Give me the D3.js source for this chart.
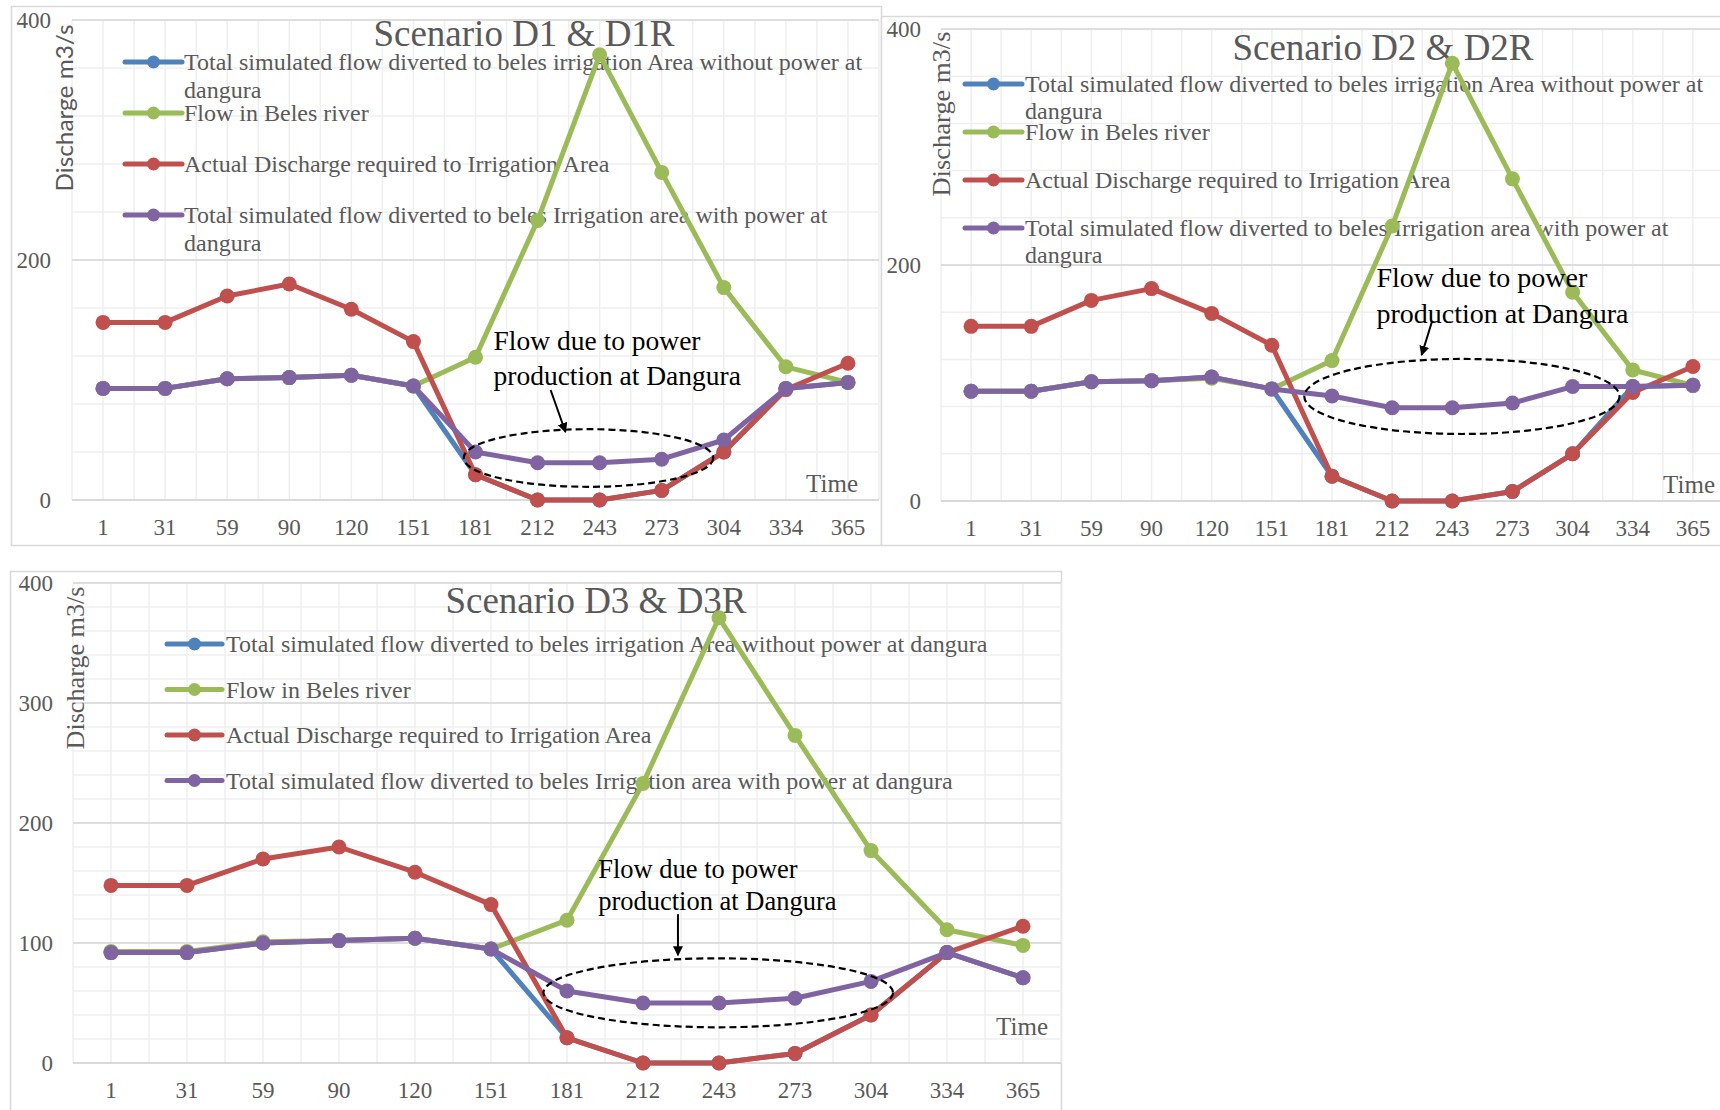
<!DOCTYPE html>
<html>
<head>
<meta charset="utf-8">
<script src="https://cdn.jsdelivr.net/npm/d3@7"></script>
<style>
  body { margin: 0; background: #fff; }
  svg { display: block; }
</style>
</head>
<body>
<script>
// categories (day of year) and series values
var days = ["1", "31", "59", "90", "120", "151", "181", "212", "243", "273", "304", "334", "365"];

var seriesNames = [
  "Total simulated flow diverted to beles irrigation Area without power at dangura",
  "Flow in Beles river",
  "Actual Discharge required to Irrigation Area",
  "Total simulated flow diverted to beles Irrigation area with power at dangura"
];
var seriesColors = ["#4f81bd", "#9bbb59", "#c0504d", "#8064a2"];

var flowBeles    = [93, 93, 101, 102, 104, 95, 119, 233, 371, 273, 177, 111, 98];
var requiredFlow = [148, 148, 170, 180, 159, 132, 21, 0, 0, 8, 40, 92, 114];

var noPowerD1 = [93, 93, 101, 102, 104, 95, 21, 0, 0, 8, 40, 93, 98];
var noPowerD2 = [93, 93, 101, 102, 105, 95, 21, 0, 0, 8, 40, 97, 98];
var noPowerD3 = [92, 92, 100, 102, 104, 95, 21, 0, 0, 8, 40, 92, 71];

var withPowerD1 = [93, 93, 101, 102, 104, 95, 40, 31, 31, 34, 50, 93, 98];
var withPowerD2 = [93, 93, 101, 102, 105, 95, 89, 79, 79, 83, 97, 97, 98];
var withPowerD3 = [92, 92, 100, 102, 104, 95, 60, 50, 50, 54, 68, 92, 71];

var titles = ["Scenario D1 & D1R", "Scenario D2 & D2R", "Scenario D3 & D3R"];
var yTicksTop = [0, 200, 400];
var yTicksBottom = [0, 100, 200, 300, 400];
var noteLines = ["Flow due to power", "production at Dangura"];

var W = 1720, H = 1110;
var grey = "#595959";
var serif = "'Liberation Serif', 'Times New Roman', serif";

var svg = d3.select("body").append("svg")
    .attr("width", W)
    .attr("height", H);

// layout of the three panels (pixels)
var charts = [
  {
    title: titles[0], data: [noPowerD1, flowBeles, requiredFlow, withPowerD1],
    box: [11, 6, 870, 539], plot: {l: 72, r: 879, t: 20, b: 500}, tickRight: 51,
    yTicks: yTicksTop, minor: 40, titleX: 524, titleY: 46,
    yLab: {x: 65, y: 108, font: "Lato, 'Open Sans', sans-serif", len: 167, size: 23},
    legend: {x1: 125, x2: 182, tx: 184, y0: 62, dy: 51, maxW: 690, lh: 28},
    note: {tx: 6.29, ty: 125, fs: 27.5, lh: 35, a: [7.21, 91.7, 7.45, 56.7], e: [7.82, 35, 2.01, 24]},
    time: [858, 492]
  },
  {
    title: titles[1], data: [noPowerD2, flowBeles, requiredFlow, withPowerD2],
    box: [881, 16, 860, 529], plot: {l: 941, r: 1723, t: 29, b: 501}, tickRight: 921,
    yTicks: yTicksTop, minor: 40, titleX: 1383, titleY: 60,
    yLab: {x: 941, y: 114, font: serif, len: 165, size: 25},
    legend: {x1: 965, x2: 1022, tx: 1025, y0: 84, dy: 48, maxW: 690, lh: 27},
    note: {tx: 6.74, ty: 181, fs: 28, lh: 36, a: [7.66, 151.7, 7.49, 123.7], e: [8.16, 88.6, 2.62, 31.8]},
    time: [1715, 493]
  },
  {
    title: titles[2], data: [noPowerD3, flowBeles, requiredFlow, withPowerD3],
    box: [10, 571, 1051, 560], plot: {l: 73, r: 1061, t: 583, b: 1063}, tickRight: 53,
    yTicks: yTicksBottom, minor: 20, titleX: 596, titleY: 613,
    yLab: {x: 75, y: 668, font: serif, len: 163, size: 25},
    legend: {x1: 167, x2: 222, tx: 226, y0: 644, dy: 45.5, maxW: 900, lh: 27},
    note: {tx: 6.41, ty: 154, fs: 26.5, lh: 31.5, a: [7.46, 124, 7.46, 89.8], e: [7.99, 58.5, 2.30, 28.75]},
    time: [1048, 1035]
  }
];

svg.append("defs").append("marker")
    .attr("id", "arrow")
    .attr("viewBox", "0 0 10 10")
    .attr("refX", 9).attr("refY", 5)
    .attr("markerWidth", 5).attr("markerHeight", 5)
    .attr("orient", "auto")
  .append("path")
    .attr("d", "M0,0 L10,5 L0,10 z")
    .attr("fill", "#000");

charts.forEach(drawChart);

function drawChart(c) {
  var p = c.plot;
  var g = svg.append("g");

  // outer frame
  g.append("rect")
      .attr("x", c.box[0] + 0.5).attr("y", c.box[1] + 0.5)
      .attr("width", c.box[2]).attr("height", c.box[3])
      .attr("fill", "#fff")
      .attr("stroke", "#d9d9d9")
      .attr("stroke-width", 1.5);

  var xBand = d3.scaleBand().domain(days).range([p.l, p.r]);
  var xi = d3.scaleLinear().domain([-0.5, days.length - 0.5]).range([p.l, p.r]);
  var y = d3.scaleLinear().domain([0, 400]).range([p.b, p.t]);

  // vertical gridlines every half category
  g.selectAll(".vgrid")
      .data(d3.range(0, days.length * 2 + 1))
    .enter().append("line")
      .attr("x1", function(k) { return xi(k / 2 - 0.5); })
      .attr("x2", function(k) { return xi(k / 2 - 0.5); })
      .attr("y1", p.t).attr("y2", p.b)
      .attr("stroke", "#efefef")
      .attr("stroke-width", 1.5);

  // horizontal gridlines
  g.selectAll(".hgrid")
      .data(d3.range(c.minor, 400 + 1, c.minor))
    .enter().append("line")
      .attr("x1", p.l).attr("x2", p.r)
      .attr("y1", function(v) { return y(v); })
      .attr("y2", function(v) { return y(v); })
      .attr("stroke", function(v) { return c.yTicks.indexOf(v) >= 0 ? "#dedede" : "#efefef"; })
      .attr("stroke-width", function(v) { return c.yTicks.indexOf(v) >= 0 ? 2 : 1.5; });

  g.append("line")
      .attr("x1", p.l).attr("x2", p.r)
      .attr("y1", y(0)).attr("y2", y(0))
      .attr("stroke", "#d9d9d9")
      .attr("stroke-width", 2);

  // axes
  var xAxis = g.append("g")
      .attr("transform", "translate(0," + p.b + ")")
      .call(d3.axisBottom(xBand).tickSize(0).tickPadding(19));
  xAxis.select(".domain").remove();
  xAxis.selectAll("text")
      .attr("fill", grey)
      .style("font-family", serif)
      .style("font-size", "23px");

  var yAxis = g.append("g")
      .attr("transform", "translate(" + p.l + ",0)")
      .call(d3.axisLeft(y).tickValues(c.yTicks).tickSize(0).tickPadding(p.l - c.tickRight));
  yAxis.select(".domain").remove();
  yAxis.selectAll("text")
      .attr("fill", grey)
      .style("font-family", serif)
      .style("font-size", "23px");

  // y axis title
  g.append("text")
      .attr("transform", "translate(" + c.yLab.x + "," + c.yLab.y + ") rotate(-90)")
      .attr("text-anchor", "middle")
      .attr("dy", "0.35em")
      .attr("fill", grey)
      .attr("textLength", c.yLab.len)
      .attr("lengthAdjust", "spacingAndGlyphs")
      .style("font-family", c.yLab.font)
      .style("font-size", c.yLab.size + "px")
      .text("Discharge m3/s");

  // title
  g.append("text")
      .attr("x", c.titleX).attr("y", c.titleY)
      .attr("text-anchor", "middle")
      .attr("fill", grey)
      .style("font-family", serif)
      .style("font-size", "37px")
      .text(c.title);

  // legend
  var leg = c.legend;
  seriesNames.forEach(function(name, i) {
    var ly = leg.y0 + i * leg.dy;
    g.append("line")
        .attr("x1", leg.x1).attr("x2", leg.x2)
        .attr("y1", ly).attr("y2", ly)
        .attr("stroke", seriesColors[i])
        .attr("stroke-width", 5)
        .attr("stroke-linecap", "round");
    g.append("circle")
        .attr("cx", (leg.x1 + leg.x2) / 2).attr("cy", ly)
        .attr("r", 6.5)
        .attr("fill", seriesColors[i]);
    var t = g.append("text")
        .attr("x", leg.tx).attr("y", ly + 8)
        .attr("fill", grey)
        .style("font-family", serif)
        .style("font-size", "24px");
    wrap(t, name, leg.maxW, leg.tx, leg.lh);
  });

  // series: line then markers, in legend order
  var line = d3.line()
      .x(function(d, i) { return xi(i); })
      .y(function(d) { return y(d); });

  c.data.forEach(function(vals, i) {
    g.append("path")
        .datum(vals)
        .attr("d", line)
        .attr("fill", "none")
        .attr("stroke", seriesColors[i])
        .attr("stroke-width", 5)
        .attr("stroke-linejoin", "round");
    g.selectAll(".pt" + i)
        .data(vals)
      .enter().append("circle")
        .attr("cx", function(d, j) { return xi(j); })
        .attr("cy", function(d) { return y(d); })
        .attr("r", 7.5)
        .attr("fill", seriesColors[i]);
  });

  // annotation
  var n = c.note;
  var nt = g.append("text")
      .attr("fill", "#000")
      .style("font-family", serif)
      .style("font-size", n.fs + "px");
  noteLines.forEach(function(s, k) {
    nt.append("tspan")
        .attr("x", xi(n.tx))
        .attr("y", y(n.ty) + k * n.lh)
        .text(s);
  });

  g.append("line")
      .attr("x1", xi(n.a[0])).attr("y1", y(n.a[1]))
      .attr("x2", xi(n.a[2])).attr("y2", y(n.a[3]))
      .attr("stroke", "#000")
      .attr("stroke-width", 2)
      .attr("marker-end", "url(#arrow)");

  var pxPerCat = xi(1) - xi(0);
  g.append("ellipse")
      .attr("cx", xi(n.e[0])).attr("cy", y(n.e[1]))
      .attr("rx", n.e[2] * pxPerCat)
      .attr("ry", y(0) - y(n.e[3]))
      .attr("fill", "none")
      .attr("stroke", "#000")
      .attr("stroke-width", 2.2)
      .attr("stroke-dasharray", "7,4");

  g.append("text")
      .attr("x", c.time[0]).attr("y", c.time[1])
      .attr("text-anchor", "end")
      .attr("fill", grey)
      .style("font-family", serif)
      .style("font-size", "25px")
      .text("Time");
}

function wrap(textSel, str, maxW, x, lh) {
  var words = str.split(" ");
  var lineWords = [];
  var tspan = textSel.append("tspan").attr("x", x);
  words.forEach(function(w) {
    lineWords.push(w);
    tspan.text(lineWords.join(" "));
    if (tspan.node().getComputedTextLength() > maxW && lineWords.length > 1) {
      lineWords.pop();
      tspan.text(lineWords.join(" "));
      lineWords = [w];
      tspan = textSel.append("tspan").attr("x", x).attr("dy", lh).text(w);
    }
  });
}
</script>
</body>
</html>
